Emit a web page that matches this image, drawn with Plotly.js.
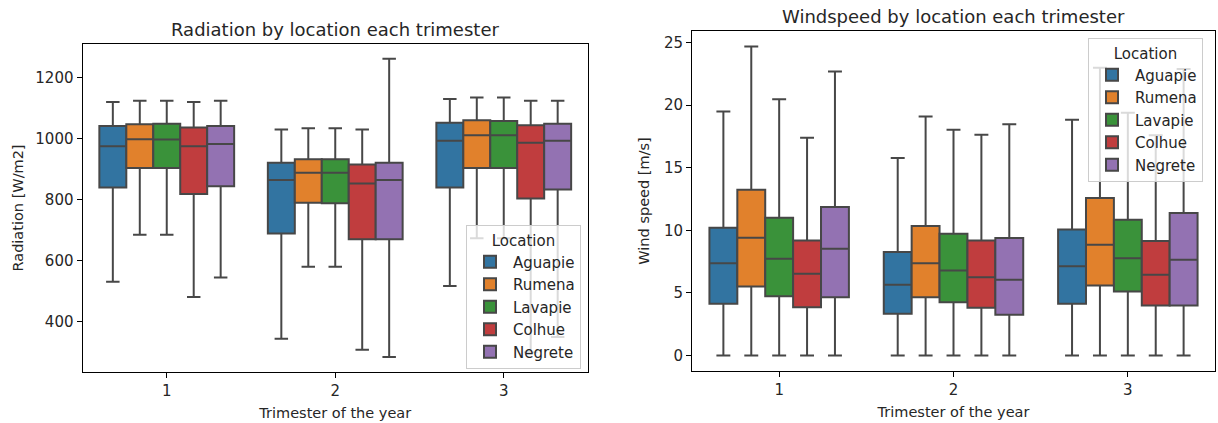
<!DOCTYPE html>
<html>
<head>
<meta charset="utf-8">
<script src="https://cdn.plot.ly/plotly-3.0.1.min.js"></script>
<style>
html,body{margin:0;padding:0;background:#fff;}
#chart{width:1218px;height:423px;}
</style>
</head>
<body>
<div id="chart"></div>
<script>
// ---- data ----
var trimesters = ['1', '2', '3'];
var locations = ['Aguapie', 'Rumena', 'Lavapie', 'Colhue', 'Negrete'];
var colors = ['#3274a1', '#e1812c', '#3a923a', '#c03d3e', '#9372b2'];

// Radiation [W/m2], per location, values for trimesters 1,2,3
var radLow  = [[531, 344, 517], [685, 580, 673], [685, 580, 673], [481, 308, 300], [545, 284, 350]];
var radQ1   = [[840, 689, 840], [904, 790, 904], [904, 788, 904], [818, 670, 804], [844, 670, 833]];
var radMed  = [[975, 864, 993], [998, 888, 1011], [997, 888, 1011], [975, 853, 986], [982, 864, 993]];
var radQ3   = [[1041, 921, 1052], [1047, 932, 1060], [1049, 932, 1058], [1036, 915, 1044], [1041, 921, 1049]];
var radHigh = [[1120, 1030, 1130], [1124, 1034, 1135], [1124, 1034, 1135], [1120, 1030, 1124], [1124, 1262, 1124]];

// Wind speed [m/s]
var windLow  = [[0, 0, 0], [0, 0, 0], [0, 0, 0], [0, 0, 0], [0, 0, 0]];
var windQ1   = [[4.13, 3.33, 4.13], [5.52, 4.66, 5.6], [4.74, 4.26, 5.12], [3.86, 3.81, 4.0], [4.66, 3.25, 4.0]];
var windMed  = [[7.38, 5.65, 7.14], [9.41, 7.38, 8.85], [7.73, 6.8, 7.78], [6.53, 6.26, 6.45], [8.53, 6.05, 7.65]];
var windQ3   = [[10.2, 8.26, 10.07], [13.25, 10.34, 12.58], [11.0, 9.73, 10.85], [9.19, 9.19, 9.14], [11.86, 9.38, 11.38]];
var windHigh = [[19.5, 15.78, 18.84], [24.7, 19.1, 23.0], [20.47, 18.04, 19.4], [17.4, 17.64, 17.6], [22.7, 18.47, 22.9]];

var radTicks = [400, 600, 800, 1000, 1200];
var windTicks = [0, 5, 10, 15, 20, 25];

// ---- build ----
var W = 1218, H = 423;
var FONT = 'DejaVu Sans, sans-serif';
var TXT = '#262626';
var lineCol = '#474747';
var traces = [];
function addBoxes(low, q1, med, q3, high, xa, ya, leg) {
  for (var i = 0; i < locations.length; i++) {
    traces.push({
      type: 'box',
      name: locations[i],
      x: trimesters,
      lowerfence: low[i], q1: q1[i], median: med[i], q3: q3[i], upperfence: high[i],
      xaxis: xa, yaxis: ya,
      legend: leg,
      offsetgroup: String(i),
      fillcolor: colors[i],
      line: {color: lineCol, width: 2},
      whiskerwidth: 0.5,
      boxpoints: false,
      hoverinfo: 'skip'
    });
  }
}
addBoxes(radLow, radQ1, radMed, radQ3, radHigh, 'x', 'y', 'legend');
addBoxes(windLow, windQ1, windMed, windQ3, windHigh, 'x2', 'y2', 'legend2');

function axisCommon() {
  return {
    showline: true, linecolor: '#000', linewidth: 1, mirror: true,
    ticks: 'outside', ticklen: 5, tickwidth: 1, tickcolor: '#000',
    showgrid: false, zeroline: false,
    tickfont: {family: FONT, size: 15, color: TXT}
  };
}
var xa1 = Object.assign(axisCommon(), {
  domain: [82.5 / W, 588 / W], anchor: 'y', type: 'category', range: [-0.5, 2.5],
  title: {text: 'Trimester of the year', font: {family: FONT, size: 14.5, color: TXT}, standoff: 8}
});
var xa2 = Object.assign(axisCommon(), {
  domain: [692 / W, 1215 / W], anchor: 'y2', type: 'category', range: [-0.5, 2.5],
  title: {text: 'Trimester of the year', font: {family: FONT, size: 14.5, color: TXT}, standoff: 8}
});
var ya1 = Object.assign(axisCommon(), {
  domain: [1 - 372 / H, 1 - 44 / H], anchor: 'x', range: [235, 1310],
  tickvals: radTicks,
  title: {text: 'Radiation [W/m2]', font: {family: FONT, size: 14.5, color: TXT}, standoff: 8}
});
var ya2 = Object.assign(axisCommon(), {
  domain: [1 - 371 / H, 1 - 31 / H], anchor: 'x2', range: [-1.24, 25.93],
  tickvals: windTicks,
  title: {text: 'Wind speed [m/s]', font: {family: FONT, size: 14.5, color: TXT}, standoff: 10}
});

function legendCfg(x, y) {
  return {
    x: x, y: y, xanchor: 'left', yanchor: 'top', xref: 'paper', yref: 'paper',
    bgcolor: 'rgba(255,255,255,0.8)', bordercolor: '#cccccc', borderwidth: 1,
    font: {family: FONT, size: 15, color: TXT},
    title: {text: 'Location', side: 'top center', font: {family: FONT, size: 15, color: TXT}},
    itemwidth: 36,
    tracegroupgap: 0
  };
}

var layout = {
  width: W, height: H,
  margin: {l: 0, r: 0, t: 0, b: 0},
  paper_bgcolor: '#fff', plot_bgcolor: '#fff',
  boxmode: 'group', boxgap: 0.2, boxgroupgap: 0,
  showlegend: true,
  xaxis: xa1, yaxis: ya1, xaxis2: xa2, yaxis2: ya2,
  legend: legendCfg(466 / W, 1 - 225 / H),
  legend2: legendCfg(1088 / W, 1 - 38 / H),
  annotations: [
    {text: 'Radiation by location each trimester', xref: 'paper', yref: 'paper',
     x: (82.5 + 588) / 2 / W, y: 1 - 30 / H, xanchor: 'center', yanchor: 'middle', showarrow: false,
     font: {family: FONT, size: 18, color: TXT}},
    {text: 'Windspeed by location each trimester', xref: 'paper', yref: 'paper',
     x: (692 + 1215) / 2 / W, y: 1 - 16 / H, xanchor: 'center', yanchor: 'middle', showarrow: false,
     font: {family: FONT, size: 18, color: TXT}}
  ]
};

Plotly.newPlot('chart', traces, layout, {displayModeBar: false, staticPlot: true});
</script>
</body>
</html>
